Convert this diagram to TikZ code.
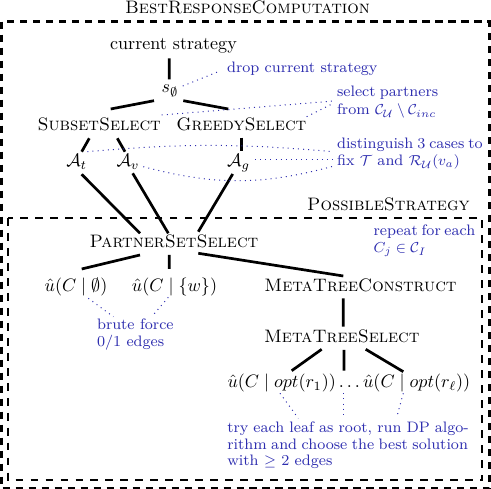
\documentclass[tikz,border=0pt]{standalone}
\usepackage{amsmath,amssymb}
\definecolor{annot}{RGB}{45,45,175}
\begin{document}
\begin{tikzpicture}[x=0.554pt,y=-0.554pt,
  lbl/.style={inner sep=0pt, anchor=base},
  ann/.style={inner sep=0pt, anchor=base west, align=left, text=annot, font=\fontsize{8.4}{9.25}\selectfont},
  edge/.style={line width=1.5pt},
  adot/.style={draw=annot, line width=0.55pt, dash pattern=on 0.55pt off 2.3pt},
  outerbox/.style={line width=1.65pt, dash pattern=on 3.9pt off 3.3pt},
  innerbox/.style={line width=1.1pt, dash pattern=on 4.3pt off 4pt}]
\useasboundingbox (0,0) rectangle (491,489);
% boxes
\draw[outerbox] (1.5,21.7) rectangle (489.5,488.5);
\draw[innerbox] (8.2,218) rectangle (482.2,480.3);
\node[lbl] (title) at (247.5,14) {\textsc{BestResponseComputation}};
\node[inner sep=0pt, anchor=base east] (pslbl) at (470,210.7) {\textsc{PossibleStrategy}};
% tree nodes
\node[lbl] (cs) at (173.5,50) {current strategy};
\node[lbl] (s) at (170,93) {$s_\emptyset$};
\node[lbl] (ss) at (99.2,131) {\textsc{SubsetSelect}};
\node[lbl] (gs) at (241.3,131) {\textsc{GreedySelect}};
\node[lbl] (At) at (76.7,167) {$\mathcal{A}_t$};
\node[lbl] (Av) at (128,167) {$\mathcal{A}_v$};
\node[lbl] (Ag) at (238.5,167) {$\mathcal{A}_g$};
\node[lbl] (pss) at (174,247.3) {\textsc{PartnerSetSelect}};
\node[lbl] (u1) at (76,291.7) {$\hat{u}(C \mid \emptyset)$};
\node[lbl] (u2) at (174.5,291.7) {$\hat{u}(C \mid \{w\})$};
\node[lbl] (mtc) at (360.5,291.7) {\textsc{MetaTreeConstruct}};
\node[lbl] (mts) at (341.8,342.3) {\textsc{MetaTreeSelect}};
\node[lbl] (o1) at (281.7,387.7) {$\hat{u}(C \mid opt(r_1))$};
\node[lbl] (dots) at (349.5,387.7) {$\ldots$};
\node[lbl] (o2) at (416.7,387.7) {$\hat{u}(C \mid opt(r_\ell))$};
% annotations (base = baseline of last line)
\node[ann] (drop) at (226.7,72.7) {drop current strategy};
\node[ann] (sel) at (336.7,115) {\makebox[56pt][s]{select partners}\\[0.8pt] from $\mathcal{C}_{\mathcal{U}} \setminus \mathcal{C}_{inc}$};
\node[ann] (dist) at (336.7,166) {\makebox[80.7pt][s]{distinguish 3 cases to}\\[0.5pt] fix $\mathcal{T}$ and $\mathcal{R}_{\mathcal{U}}(v_a)$};
\node[ann] (rep) at (373.3,252.7) {\makebox[55.7pt][s]{repeat for each}\\ $C_j \in \mathcal{C}_I$};
\node[ann] (brute) at (96.7,346.7) {brute force\\ 0/1 edges};
\node[ann] (try) at (227,466) {\makebox[133.8pt][s]{try each leaf as root, run DP algo-}\\ \makebox[133.3pt][s]{rithm and choose the best solution}\\ with $\geq$ 2 edges};
% solid edges
\draw[edge] ([shift={(-4.2,8.3)}]cs.base) -- ([shift={(-0.7,-13.7)}]s.base);
\draw[edge] ([shift={(-16,7.7)}]s.base) -- ([shift={(11.5,-22)}]ss.base);
\draw[edge] ([shift={(13.3,7.7)}]s.base) -- ([shift={(-13,-22)}]gs.base);
\draw[edge] ([shift={(-9.9,7.3)}]ss.base) -- ([shift={(5,-15.3)}]At.base);
\draw[edge] ([shift={(18.1,7.3)}]ss.base) -- ([shift={(-3,-15.3)}]Av.base);
\draw[edge] ([shift={(0.4,6.7)}]gs.base) -- ([shift={(3.2,-16.3)}]Ag.base);
\draw[edge] ([shift={(5,7.3)}]At.base) -- ([shift={(-34,-14)}]pss.base);
\draw[edge] ([shift={(4.7,6.3)}]Av.base) -- ([shift={(-5.7,-14)}]pss.base);
\draw[edge] ([shift={(-5.8,7)}]Ag.base) -- ([shift={(24.3,-15.6)}]pss.base);
\draw[edge] ([shift={(-34,7.7)}]pss.base) -- ([shift={(5.7,-22.7)}]u1.base);
\draw[edge] ([shift={(-4.7,7.7)}]pss.base) -- ([shift={(-5.2,-22.7)}]u2.base);
\draw[edge] ([shift={(24.3,6)}]pss.base) -- ([shift={(-17.2,-15.7)}]mtc.base);
\draw[edge] ([shift={(-17.2,6.6)}]mtc.base) -- ([shift={(1.5,-15.6)}]mts.base);
\draw[edge] ([shift={(-20.1,7)}]mts.base) -- ([shift={(10,-17)}]o1.base);
\draw[edge] ([shift={(2.2,7.7)}]mts.base) -- ([shift={(-5.5,-17)}]dots.base);
\draw[edge] ([shift={(23.9,7)}]mts.base) -- ([shift={(-13.4,-16)}]o2.base);
% dotted annotation links
\draw[adot] ([shift={(12.7,-7)}]s.base) -- ([shift={(-6.7,-1.7)}]drop.base west);
\draw[adot] ([shift={(62.5,-16)}]ss.base) -- ([shift={(-2.7,-14)}]sel.base west);
\draw[adot] ([shift={(65.4,-14.3)}]gs.base) -- ([shift={(-2.7,-12)}]sel.base west);
\draw[adot] ([shift={(10.6,-15.3)}]At.base) to[bend left=5] ([shift={(-3.4,-14.3)}]dist.base west);
\draw[adot] ([shift={(16.5,-7.7)}]Ag.base) -- ([shift={(-3.4,-6.7)}]dist.base west);
\draw[adot] ([shift={(15.3,-0.3)}]Av.base) to[bend right=15] ([shift={(-1.7,-0.3)}]dist.base west);
\draw[adot] ([shift={(12.3,6.6)}]u1.base) -- ([shift={(16.6,-30)}]brute.base west);
\draw[adot] ([shift={(-6.2,5.6)}]u2.base) -- ([shift={(55,-30)}]brute.base west);
\draw[adot] ([shift={(-1.7,5.6)}]o1.base) -- ([shift={(71.3,-47.7)}]try.base west);
\draw[adot] ([shift={(-6.2,5.6)}]dots.base) -- ([shift={(116.3,-48.7)}]try.base west);
\draw[adot] ([shift={(-13.4,5.6)}]o2.base) -- ([shift={(169.7,-48.7)}]try.base west);
\end{tikzpicture}
\end{document}
